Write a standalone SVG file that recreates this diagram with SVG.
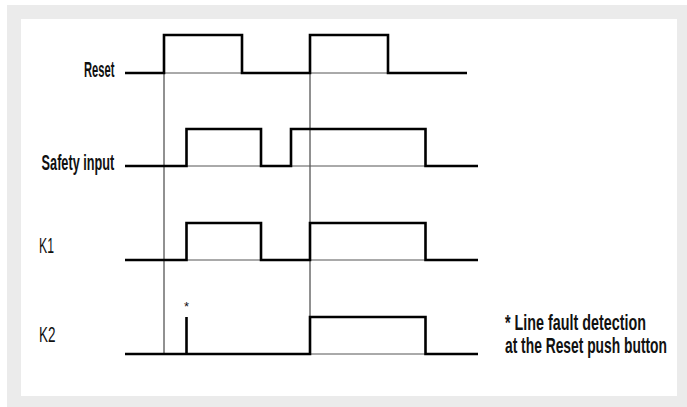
<svg xmlns="http://www.w3.org/2000/svg" width="687" height="407" viewBox="0 0 687 407">
  <style>
    .sig { fill: none; stroke: #000; stroke-width: 2.6; stroke-linejoin: miter; stroke-linecap: butt; }
    .thin { fill: none; stroke: #222; stroke-width: 1; }
    .base { fill: none; stroke: #555; stroke-width: 1; }
    .lbl { font-family: "Liberation Sans", Arial, sans-serif; font-size: 22px; font-weight: bold; fill: #111; }
    .lblk { font-family: "Liberation Sans", Arial, sans-serif; font-size: 22px; fill: #111; }
    .ast { font-family: "Liberation Sans", Arial, sans-serif; font-size: 13px; fill: #111; }
  </style>
  <rect x="0" y="0" width="687" height="407" fill="#ffffff"/>
  <rect x="7" y="5" width="680" height="402" fill="#ebebeb"/>
  <rect x="21" y="19" width="656" height="377" fill="#ffffff"/>

  <g id="connectors">
    <line class="thin" x1="164" y1="35" x2="164" y2="354"/>
    <line class="thin" x1="310" y1="35" x2="310" y2="354"/>
  </g>

  <g id="reset">
    <line class="base" x1="125" y1="73" x2="467" y2="73"/>
    <path class="sig" d="M125,73 H164 V35 H242 V73 H310 V35 H388 V73 H467"/>
    <text class="lbl" transform="translate(84,77) scale(0.509,1)" x="0" y="0" textLength="59.9" lengthAdjust="spacingAndGlyphs">Reset</text>
  </g>

  <g id="safety-input">
    <line class="base" x1="125" y1="166" x2="478" y2="166"/>
    <path class="sig" d="M125,166 H186.5 V129 H261 V166 H291 V129 H425.5 V166 H478"/>
    <text class="lbl" transform="translate(41.6,170) scale(0.578,1)" x="0" y="0" textLength="125.7" lengthAdjust="spacingAndGlyphs">Safety input</text>
  </g>

  <g id="k1">
    <line class="base" x1="125" y1="260" x2="478" y2="260"/>
    <path class="sig" d="M125,260 H186.5 V223 H261 V260 H310 V223 H425.5 V260 H478"/>
    <text class="lblk" transform="translate(39,253) scale(0.557,1)" x="0" y="0" textLength="26.9" lengthAdjust="spacingAndGlyphs">K1</text>
  </g>

  <g id="k2">
    <line class="base" x1="125" y1="354" x2="478" y2="354"/>
    <path class="sig" d="M125,354 H310 V317 H425.5 V354 H478"/>
    <path class="sig" d="M186.5,354 V317"/>
    <text class="lblk" transform="translate(39,342) scale(0.613,1)" x="0" y="0" textLength="26.9" lengthAdjust="spacingAndGlyphs">K2</text>
    <text class="ast" x="186.5" y="311" text-anchor="middle">*</text>
  </g>

  <g id="note">
    <text class="lbl" transform="translate(505,330) scale(0.652,1)" x="0" y="0" textLength="216.3" lengthAdjust="spacingAndGlyphs">* Line fault detection</text>
    <text class="lbl" transform="translate(505,353) scale(0.628,1)" x="0" y="0" textLength="257.9" lengthAdjust="spacingAndGlyphs">at the Reset push button</text>
  </g>
</svg>
